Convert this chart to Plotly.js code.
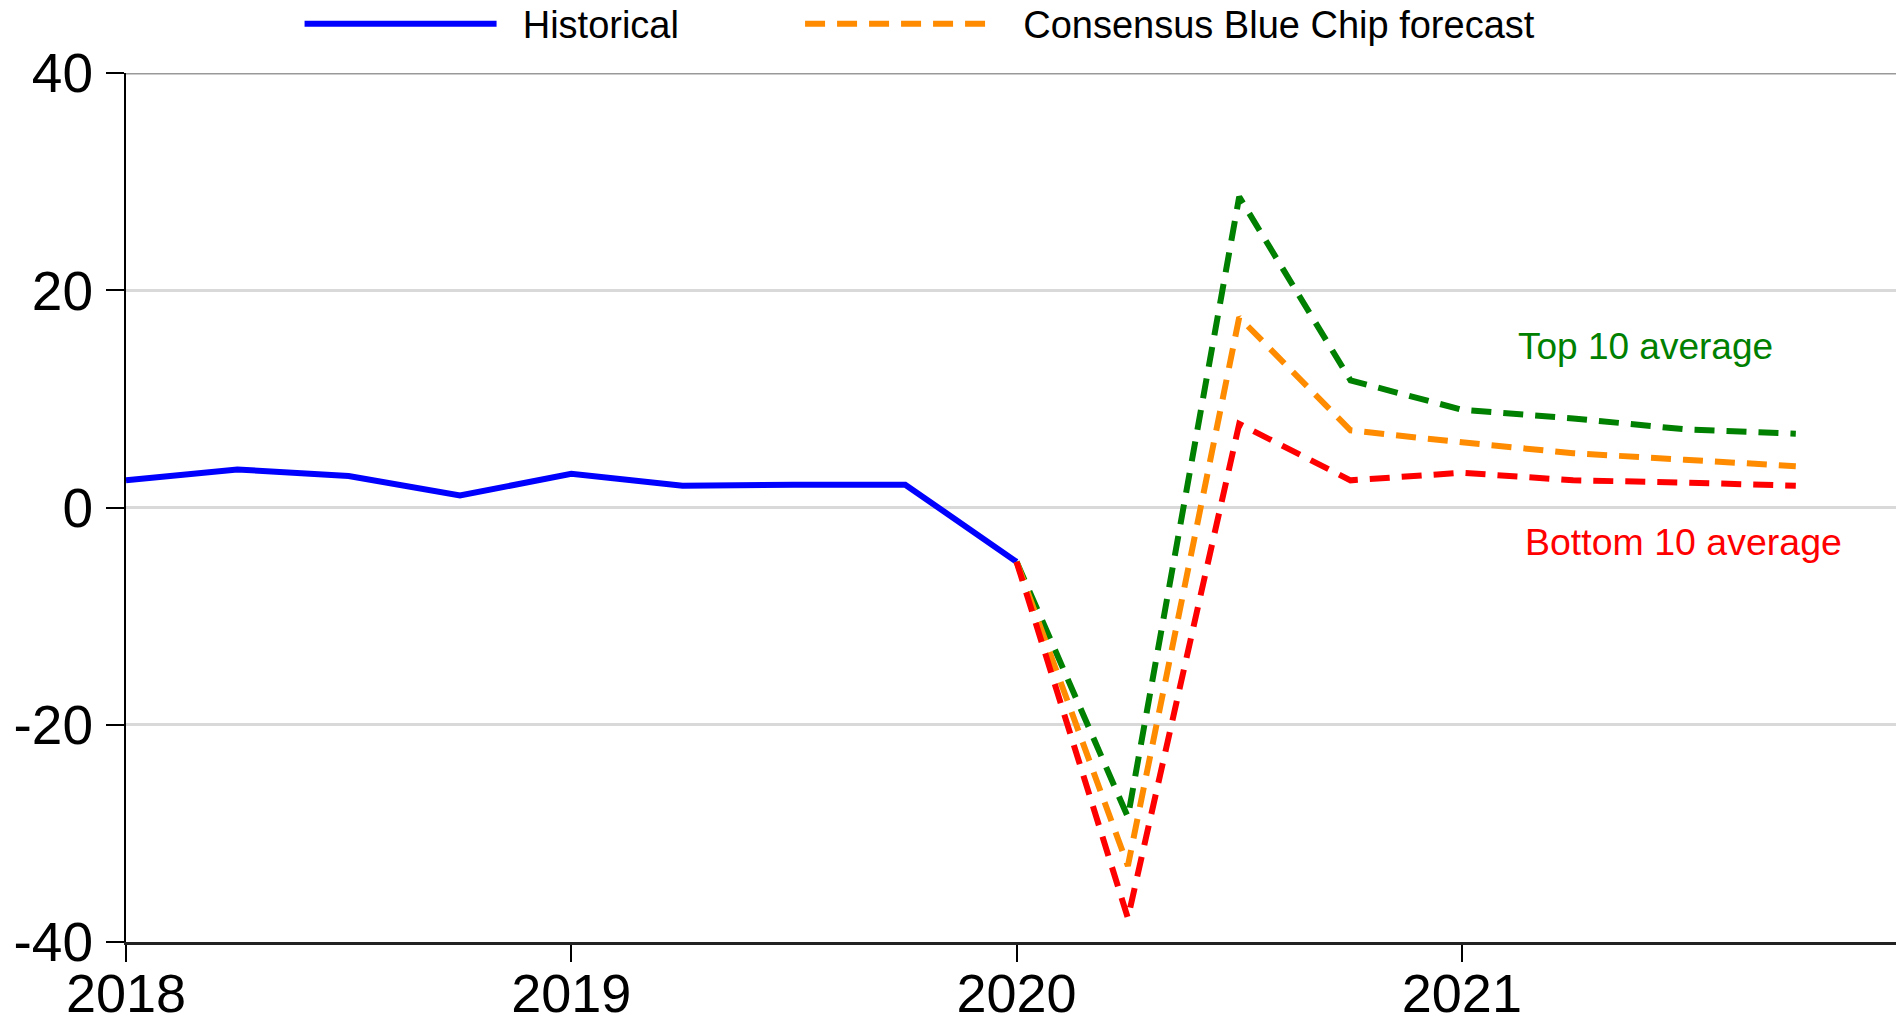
<!DOCTYPE html>
<html>
<head>
<meta charset="utf-8">
<script src="https://cdn.plot.ly/plotly-3.0.1.min.js"></script>
<style>html,body{margin:0;padding:0;background:#fff;}#chart{width:1896px;height:1024px;}</style>
</head>
<body>
<div id="chart"></div>
<script>
// Quarterly dates (decimal years)
const histX = [2018.0, 2018.25, 2018.5, 2018.75, 2019.0, 2019.25, 2019.5, 2019.75, 2020.0];
const histY = [2.5, 3.5, 2.9, 1.1, 3.1, 2.0, 2.1, 2.1, -5.0];

const fcX = [2020.0, 2020.25, 2020.5, 2020.75, 2021.0, 2021.25, 2021.5, 2021.75];
const consensusY = [-5.0, -33.0, 17.5, 7.1, 6.0, 5.0, 4.4, 3.8];
const top10Y = [-5.0, -28.5, 28.6, 11.7, 9.0, 8.2, 7.2, 6.8];
const bottom10Y = [-5.0, -37.8, 7.7, 2.5, 3.2, 2.5, 2.3, 2.0];

const xTickVals = [2018, 2019, 2020, 2021];
const xTickText = ['2018', '2019', '2020', '2021'];
const yTickVals = [-40, -20, 0, 20, 40];
const yTickText = ['-40', '-20', '0', '20', '40'];

const FONT = 'Liberation Sans, Arial, sans-serif';
const DASH = '20px,12px';
const NB = '\u00a0';

const traces = [
  {x: histX, y: histY, type: 'scatter', mode: 'lines',
   name: NB + NB + 'Historical' + NB.repeat(11),
   line: {color: '#0000ff', width: 6}, showlegend: true},
  {x: fcX, y: top10Y, type: 'scatter', mode: 'lines', name: 'Top 10 average',
   line: {color: '#008000', width: 6, dash: DASH}, showlegend: false},
  {x: fcX, y: consensusY, type: 'scatter', mode: 'lines',
   name: NB + NB + 'Consensus Blue Chip forecast',
   line: {color: '#ff8c00', width: 6, dash: DASH}, showlegend: true},
  {x: fcX, y: bottom10Y, type: 'scatter', mode: 'lines', name: 'Bottom 10 average',
   line: {color: '#ff0000', width: 6, dash: DASH}, showlegend: false}
];

const layout = {
  width: 1896, height: 1024,
  margin: {l: 126, r: 0, t: 73, b: 82, autoexpand: false},
  paper_bgcolor: '#fff', plot_bgcolor: '#fff',
  font: {family: FONT, color: '#000'},
  showlegend: true,
  legend: {
    orientation: 'h', xref: 'container', yref: 'container',
    x: 0.158, xanchor: 'left', y: 0.9766, yanchor: 'middle',
    font: {family: FONT, size: 38, color: '#000'},
    itemwidth: 192,
    bgcolor: 'rgba(0,0,0,0)', traceorder: 'normal'
  },
  xaxis: {
    range: [2018, 2021.975], tickmode: 'array', tickvals: xTickVals, ticktext: xTickText,
    showgrid: false, zeroline: false, showline: true, linecolor: '#222', linewidth: 3,
    ticks: 'outside', ticklen: 17, tickwidth: 2, tickcolor: '#000',
    ticklabelstandoff: -15,
    tickfont: {family: FONT, size: 54, color: '#000'}
  },
  yaxis: {
    range: [-40, 40], tickmode: 'array', tickvals: yTickVals, ticktext: yTickText,
    showgrid: true, gridcolor: '#d9d9d9', gridwidth: 3, zeroline: false,
    showline: true, linecolor: '#000', linewidth: 2,
    ticks: 'outside', ticklen: 18, tickwidth: 2, tickcolor: '#000',
    ticklabelstandoff: 2,
    tickfont: {family: FONT, size: 55, color: '#000'}
  },
  shapes: [
    {type: 'line', xref: 'paper', yref: 'y', x0: 0, x1: 1, y0: 40, y1: 40,
     line: {color: '#999', width: 3}}
  ],
  annotations: [
    {x: 2021.413, y: 14.8, xref: 'x', yref: 'y', text: 'Top 10 average', showarrow: false,
     font: {family: FONT, size: 37, color: '#008000'}},
    {x: 2021.498, y: -3.2, xref: 'x', yref: 'y', text: 'Bottom 10 average', showarrow: false,
     font: {family: FONT, size: 37.5, color: '#ff0000'}}
  ]
};

Plotly.newPlot('chart', traces, layout, {displayModeBar: false, staticPlot: true});
</script>
</body>
</html>
